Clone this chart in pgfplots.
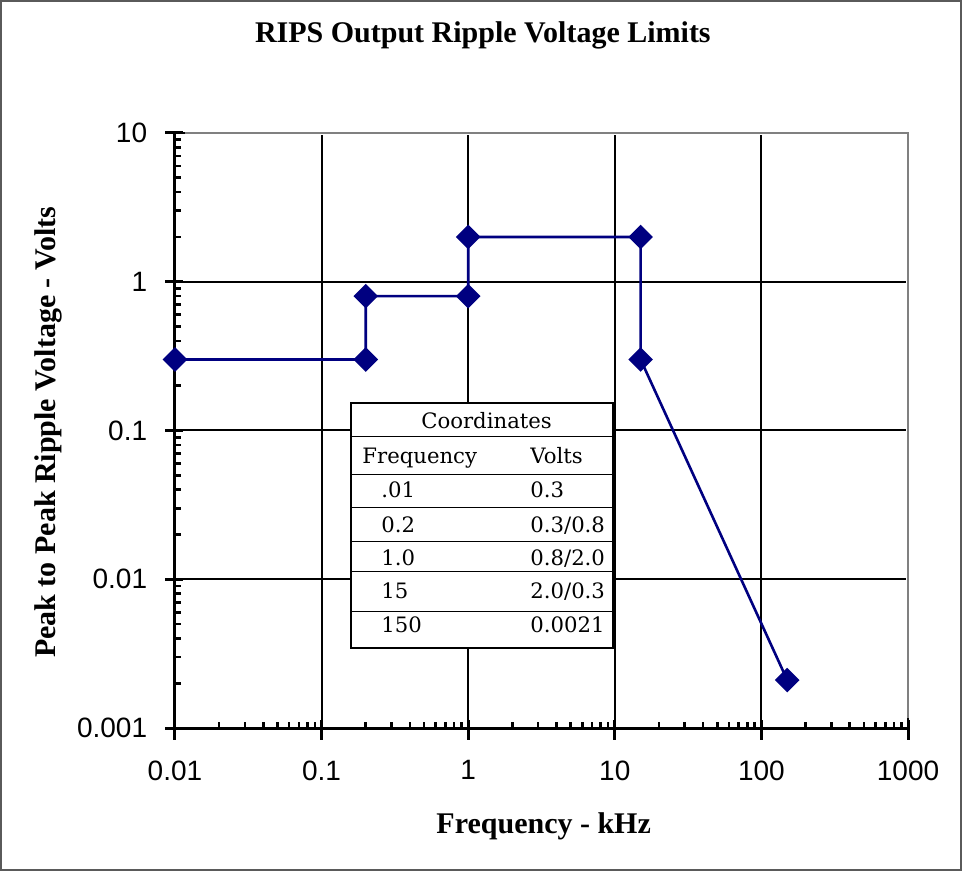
\documentclass[border=0pt]{standalone}
\usepackage{fontspec}
\setmainfont{Liberation Serif}
\newfontfamily\ticksf{Liberation Sans}
\newfontfamily\tabfont{DejaVu Serif}
\usepackage{pgfplots}
\usepackage{pgfplotstable}
\pgfplotsset{compat=1.18}
\definecolor{navy}{RGB}{0,0,128}
\definecolor{framegray}{RGB}{90,90,90}

% limit curve, frequency in kHz, peak to peak volts
\pgfplotstableread{
f v
0.01 0.3
0.2 0.3
0.2 0.8
1 0.8
1 2
15 2
15 0.3
150 0.0021
}\ripple

\begin{document}
\begin{tikzpicture}
\begin{axis}[
  at={(0,0)}, anchor=south west,
  scale only axis, width=366.5pt, height=297.5pt,
  xmode=log, ymode=log,
  xmin=0.01, xmax=1000, ymin=0.001, ymax=10,
  axis lines*=left,
  axis line style={line width=1.5pt},
  xtick={0.01,0.1,1,10,100,1000},
  xticklabels={0.01,0.1,1,10,100,1000},
  ytick={0.001,0.01,0.1,1,10},
  yticklabels={0.001,0.01,0.1,1,10},
  minor xtick={0.02,0.03,0.04,0.05,0.06,0.07,0.08,0.09,0.2,0.3,0.4,0.5,0.6,0.7,0.8,0.9,2,3,4,5,6,7,8,9,20,30,40,50,60,70,80,90,200,300,400,500,600,700,800,900},
  minor ytick={0.002,0.003,0.004,0.005,0.006,0.007,0.008,0.009,0.02,0.03,0.04,0.05,0.06,0.07,0.08,0.09,0.2,0.3,0.4,0.5,0.6,0.7,0.8,0.9,2,3,4,5,6,7,8,9},
  tick align=inside,
  major tick length=4pt, minor tick length=3pt,
  tick style={black, line width=1.5pt},
  minor tick style={line width=1.3pt},
  grid=major,
  major grid style={black, line width=1pt},
  extra x ticks={0.01,0.1,1,10,100,1000}, extra x tick labels={},
  extra x tick style={tick align=outside, major tick length=6pt, grid=none},
  extra y ticks={0.001,0.01,0.1,1,10}, extra y tick labels={},
  extra y tick style={tick align=outside, major tick length=5pt, grid=none},
  xticklabel style={font=\ticksf\fontsize{14}{16}\selectfont, yshift=-12.8pt},
  yticklabel style={font=\ticksf\fontsize{14}{16}\selectfont, anchor=east, xshift=-10.4pt},
  title={RIPS Output Ripple Voltage Limits},
  title style={at={(axis description cs:0.42,1.1445)}, anchor=center, font=\bfseries\fontsize{15}{18}\selectfont},
  xlabel={Frequency - kHz},
  xlabel style={at={(axis description cs:0.503,-0.1647)}, anchor=center, font=\bfseries\fontsize{15}{18}\selectfont},
  ylabel={Peak to Peak Ripple Voltage - Volts},
  ylabel style={at={(axis description cs:-0.1733,0.497)}, anchor=center, font=\bfseries\fontsize{15}{18}\selectfont},
  clip=false,
]
\addplot[navy, line width=1.3pt, mark=square*, mark size=3.7pt,
  mark options={rotate=45, solid, fill=navy}] table[x=f, y=v] {\ripple};
\end{axis}

% top and right edges of the plot area are thin and grey
\draw[white, line width=1.6pt] (5pt,297.5pt) -- (366.5pt,297.5pt) -- (366.5pt,5pt);
\draw[gray, line width=0.7pt] (5pt,297.5pt) -- (366.5pt,297.5pt) -- (366.5pt,5pt);

% coordinates table
\begin{scope}[font=\tabfont\fontsize{10.6}{12}\selectfont, every node/.style={inner sep=0pt}]
\fill[white] (88pt,40pt) rectangle (219pt,162.5pt);
\draw[line width=0.7pt] (88pt,40pt) rectangle (219pt,162.5pt);
\draw[line width=1.2pt] (219pt,162.5pt) -- (219pt,40pt) -- (88pt,40pt);
\foreach \y in {145.85,126.65,110.35,93.35,78.35,58.35}
  \draw[line width=0.7pt] (88pt,\y pt) -- (219pt,\y pt);
\node[anchor=base] at (155.8pt,149.7pt) {Coordinates};
\node[anchor=base west] at (93.5pt,132.4pt) {Frequency};
\node[anchor=base west] at (177.5pt,132.4pt) {Volts};
\node[anchor=base west] at (103pt,115.2pt) {.01};
\node[anchor=base west] at (177.5pt,115.2pt) {0.3};
\node[anchor=base west] at (103pt,97.7pt) {0.2};
\node[anchor=base west] at (177.5pt,97.7pt) {0.3/0.8};
\node[anchor=base west] at (103pt,81.2pt) {1.0};
\node[anchor=base west] at (177.5pt,81.2pt) {0.8/2.0};
\node[anchor=base west] at (103pt,64.7pt) {15};
\node[anchor=base west] at (177.5pt,64.7pt) {2.0/0.3};
\node[anchor=base west] at (103pt,47.7pt) {150};
\node[anchor=base west] at (177.5pt,47.7pt) {0.0021};
\end{scope}

% outer frame of the chart
\draw[framegray, line width=0.8pt] (-87.1pt,-71.1pt) rectangle (393.1pt,363.6pt);
\end{tikzpicture}
\end{document}
